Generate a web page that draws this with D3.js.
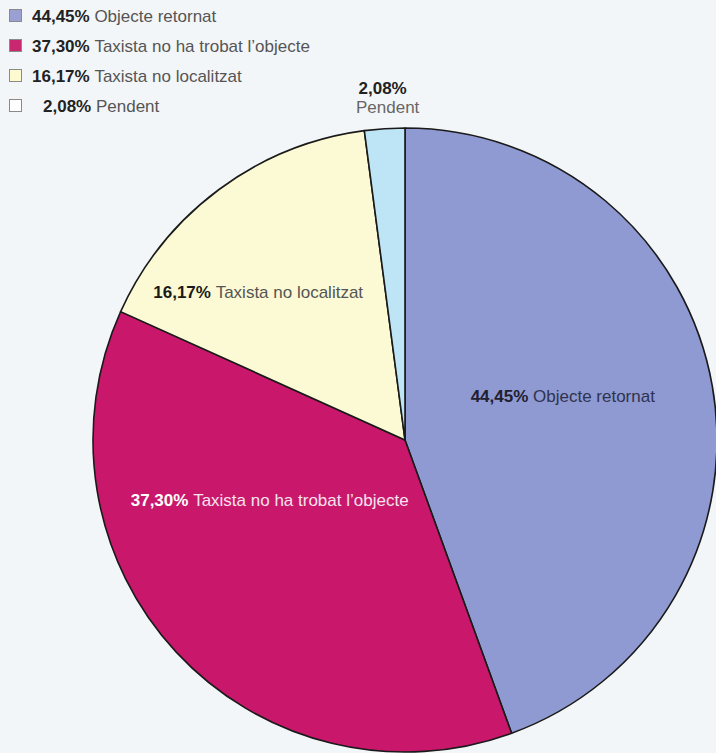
<!DOCTYPE html>
<html>
<head>
<meta charset="utf-8">
<script src="https://cdn.jsdelivr.net/npm/d3@7"></script>
<style>
  html, body { margin: 0; padding: 0; background: #f3f6f8; }
  svg { display: block; }
  text { font-family: "Liberation Sans", Arial, Helvetica, sans-serif; }
</style>
</head>
<body>
<svg id="chart" width="716" height="753"></svg>
<script>
const categories = ["Objecte retornat", "Taxista no ha trobat l\u2019objecte", "Taxista no localitzat", "Pendent"];
const values = [44.45, 37.30, 16.17, 2.08];
const valueLabels = ["44,45%", "37,30%", "16,17%", "2,08%"];
const sliceColors = ["#8f9ad2", "#c9176c", "#fcfad4", "#bee5f6"];
const legendColors = ["#9a9fd4", "#c9276f", "#fdfad0", "#ffffff"];
const labelColors = ["#1f2030", "#ffffff", "#1a1a1a", "#222222"];
const nameColors = ["#2f3350", "#f6e3ec", "#555555", "#666666"];

const svg = d3.select("#chart");
const cx = 405, cy = 440, R = 312;

const data = categories.map((c, i) => ({ name: c, value: values[i], label: valueLabels[i], i }));

const pie = d3.pie().sort(null).value(d => d.value);
const arcs = pie(data);
const arc = d3.arc().innerRadius(0).outerRadius(R);

const g = svg.append("g").attr("transform", `translate(${cx},${cy})`);
g.selectAll("path.slice")
  .data(arcs)
  .join("path")
  .attr("class", "slice")
  .attr("d", arc)
  .attr("fill", d => sliceColors[d.data.i])
  .attr("stroke", "#1a1a1a")
  .attr("stroke-width", 1.6)
  .attr("stroke-linejoin", "round");

// Label placement: angle offset (degrees from slice mid-angle) and radius fraction
const labelAngleOffset = [-5.6, 18.8, -8.2, 0];
const labelRadiusFrac = [0.525, 0.475, 0.668, 1.098];
const FS = 17;

arcs.forEach((a, k) => {
  const ang = (a.startAngle + a.endAngle) / 2 + labelAngleOffset[k] * Math.PI / 180;
  const r = R * labelRadiusFrac[k];
  const x = r * Math.sin(ang);
  const y = -r * Math.cos(ang);
  if (k === 3) {
    g.append("text")
      .attr("x", x).attr("y", y - 4)
      .attr("text-anchor", "middle")
      .attr("font-size", FS).attr("font-weight", "bold")
      .attr("fill", labelColors[k])
      .text(a.data.label);
    g.append("text")
      .attr("x", x + 5).attr("y", y + 15)
      .attr("text-anchor", "middle")
      .attr("font-size", FS)
      .attr("fill", nameColors[k])
      .text(a.data.name);
  } else {
    const t = g.append("text")
      .attr("x", x).attr("y", y + 6)
      .attr("text-anchor", "middle")
      .attr("font-size", FS);
    t.append("tspan").attr("font-weight", "bold").attr("fill", labelColors[k]).text(a.data.label + " ");
    t.append("tspan").attr("fill", nameColors[k]).text(a.data.name);
  }
});

// Legend
const legend = svg.append("g").attr("transform", "translate(9,9)");
const rowY = d3.scaleBand().domain(d3.range(data.length)).range([0, 120]);
data.forEach((d, i) => {
  const row = legend.append("g").attr("transform", `translate(0,${rowY(i)})`);
  row.append("rect")
    .attr("x", 0.5).attr("y", 0.5)
    .attr("width", 12).attr("height", 12)
    .attr("fill", legendColors[i])
    .attr("stroke", "#8a8a8a").attr("stroke-width", 1);
  const t = row.append("text")
    .attr("x", i === 3 ? 34 : 23).attr("y", 13)
    .attr("font-size", FS);
  t.append("tspan").attr("font-weight", "bold").attr("fill", "#222").text(d.label + " ");
  t.append("tspan").attr("fill", "#555").text(d.name);
});
</script>
</body>
</html>
